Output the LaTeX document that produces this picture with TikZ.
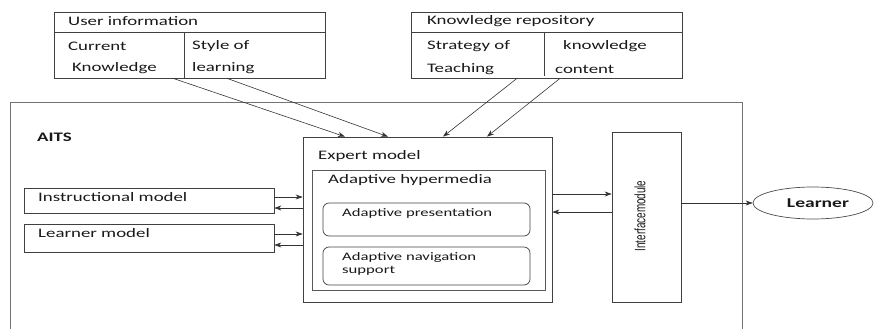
\documentclass[tikz,border=0pt]{standalone}
\usepackage{fontspec}
\setmainfont{Carlito}[FakeStretch=1.45]
\newfontfamily\narrowfont{Liberation Sans}[FakeStretch=0.66]
\usetikzlibrary{arrows.meta,shapes.geometric}

\tikzset{
  box/.style = {rectangle, draw = black!75, line width = 0.7pt, inner sep = 0pt},
  roundbox/.style = {box, rounded corners = 6pt},
  txt/.style = {anchor = west, inner sep = 0pt, text = black!90,
    font = \fontsize{13}{15}\selectfont},
  smalltxt/.style = {txt, align = left, font = \fontsize{11.5}{12.5}\selectfont},
  link/.style = {draw = black!80, line width = 0.6pt,
    -{Stealth[length = 7pt, width = 5pt]}}
}

\begin{document}
\begin{tikzpicture}[x=1pt, y=-1pt]
\useasboundingbox (0,0) rectangle (875,329);

% top boxes
\node[box,
    minimum width = 271pt,
    minimum height = 66pt] (userinfo) at (189.5,45) {};
\draw[draw = black!75, line width = 0.7pt] (54,32) -- (325,32);
\draw[draw = black!75, line width = 0.7pt] (184,32) -- (184,78);
\node[txt] (uitxt) at (68,21) {User information};
\node[txt] (curtxt) at (68,46) {Current};
\node[txt] (knowtxt) at (72,68) {Knowledge};
\node[txt] (styletxt) at (192,46) {Style of};
\node[txt] (learntxt) at (192,68) {learning};

\node[box,
    minimum width = 271pt,
    minimum height = 66pt] (knowrepo) at (546.5,45) {};
\draw[draw = black!75, line width = 0.7pt] (411,32) -- (682,32);
\draw[draw = black!75, line width = 0.7pt] (544,32) -- (544,76);
\node[txt] (krtxt) at (427,21) {Knowledge repository};
\node[txt] (strattxt) at (427,46) {Strategy of};
\node[txt] (teachtxt) at (427,69) {Teaching};
\node[txt] (kcontxt) at (563,46) {knowledge};
\node[txt] (contxt) at (555,69) {content};

% AITS frame
\draw[draw = black!55, line width = 0.6pt] (10,329) |- (742,102) -- (742,329);
\node[txt, font = \fontsize{13}{15}\selectfont\bfseries] (aitstxt) at (37,137) {AITS};

% left models
\node[box,
    minimum width = 250pt,
    minimum height = 25pt] (instr) at (149,200.5) {};
\node[txt] (instrtxt) at (38,197) {Instructional model};
\node[box,
    minimum width = 250pt,
    minimum height = 28pt] (lmodel) at (149,238) {};
\node[txt] (lmodeltxt) at (38,233) {Learner model};

% expert model
\node[box,
    minimum width = 249pt,
    minimum height = 165pt] (expert) at (427.5,219.5) {};
\node[txt] (experttxt) at (318,156) {Expert model};
\node[box,
    draw = black!65,
    line width = 1pt,
    minimum width = 233pt,
    minimum height = 120pt] (hyper) at (428.5,230) {};
\node[txt] (hypertxt) at (328,180) {Adaptive hypermedia};
\node[roundbox,
    minimum width = 207pt,
    minimum height = 33pt] (present) at (426.5,219.5) {};
\node[smalltxt] (presenttxt) at (342,213) {Adaptive presentation};
\node[roundbox,
    minimum width = 207pt,
    minimum height = 38pt] (navig) at (426.5,266) {};
\node[smalltxt] (navigtxt) at (342,264) {Adaptive navigation\\support};

% interface and learner
\node[box,
    minimum width = 69pt,
    minimum height = 170pt] (iface) at (646.5,217) {};
\node[inner sep = 0pt,
    rotate = 90,
    text = black!90,
    font = \narrowfont\fontsize{15}{17}\selectfont] (ifacetxt) at (640,216) {Interfacemodule};
\node[ellipse,
    draw = black!70,
    line width = 0.7pt,
    minimum width = 120pt,
    minimum height = 32pt] (learner) at (813,203) {};
\node[font = \fontsize{13.5}{15}\selectfont\bfseries, text = black!90] (learnertxt) at (818,203) {Learner};

% connectors
\coordinate (ck) at ([xshift=-16.5pt]userinfo.south);
\coordinate (sl) at ([xshift=37.5pt]userinfo.south);
\coordinate (st) at ([xshift=-29.5pt]knowrepo.south);
\coordinate (kc) at ([xshift=13.5pt]knowrepo.south);
\coordinate (e1) at ([xshift=-82.5pt]expert.north);
\coordinate (e2) at ([xshift=-39.5pt]expert.north);
\coordinate (e3) at ([xshift=15.5pt]expert.north);
\coordinate (e4) at ([xshift=59.5pt]expert.north);
\draw[link] (ck) -- (e1);
\draw[link] (sl) -- (e2);
\draw[link] (st) -- (e3);
\draw[link] (kc) -- (e4);

\coordinate (i1) at ([yshift=3.5pt]instr.east);
\coordinate (i2) at ([yshift=-7.5pt]instr.east);
\draw[link] (i1) -- (i1 -| expert.west);
\draw[link] (i2 -| expert.west) -- (i2);
\coordinate (l1) at ([yshift=4pt]lmodel.east);
\coordinate (l2) at ([yshift=-7pt]lmodel.east);
\draw[link] (l1) -- (l1 -| expert.west);
\draw[link] (l2 -| expert.west) -- (l2);

\coordinate (x1) at ([yshift=25.5pt]expert.east);
\coordinate (x2) at ([yshift=7.5pt]expert.east);
\draw[link] (x1) -- (x1 -| iface.west);
\draw[link] (x2 -| iface.west) -- (x2);
\coordinate (f1) at ([yshift=14pt]iface.east);
\draw[link] (f1) -- (learner.west);
\end{tikzpicture}
\end{document}
